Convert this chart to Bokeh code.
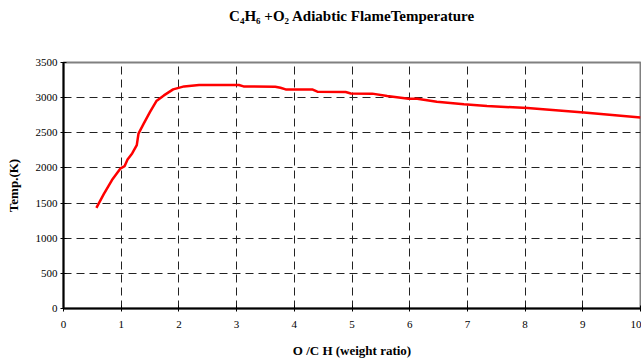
from bokeh.plotting import figure
from bokeh.models import FixedTicker, Range1d, Title
from bokeh.embed import file_html
from bokeh.resources import INLINE

# data
ratio = [0.57, 0.70, 0.84, 0.99, 1.06, 1.11, 1.19, 1.27, 1.30, 1.39, 1.50, 1.61,
         1.74, 1.90, 2.09, 2.35, 3.04, 3.12, 3.24, 3.67, 3.76, 3.85, 4.31, 4.40,
         4.89, 4.98, 5.35, 5.61, 5.98, 6.13, 6.47, 6.94, 7.34, 8.04, 9.02, 10.0]
temp = [1431, 1630, 1828, 1994, 2026, 2121, 2206, 2324, 2489, 2631, 2797, 2952,
        3032, 3117, 3160, 3180, 3180, 3160, 3158, 3155, 3140, 3117, 3117, 3085,
        3080, 3060, 3057, 3023, 2985, 2985, 2942, 2905, 2881, 2853, 2787, 2716]
x_ticks = [0, 1, 2, 3, 4, 5, 6, 7, 8, 9, 10]
y_ticks = [0, 500, 1000, 1500, 2000, 2500, 3000, 3500]
title_text = "C\u2084H\u2086 +O\u2082 Adiabtic FlameTemperature"
x_label = "O /C H (weight ratio)"
y_label = "Temp.(K)"

SERIF = "Liberation Serif"

p = figure(width=641, height=360, output_backend="svg", toolbar_location=None,
           x_range=Range1d(0, 10), y_range=Range1d(0, 3500),
           min_border_left=63, min_border_right=1, min_border_top=62, min_border_bottom=50)
p.background_fill_color = "white"
p.border_fill_color = "white"
p.outline_line_color = "#808080"
p.outline_line_width = 2

# an empty spacer title next to the frame pushes the real title upwards
p.add_layout(Title(text=" ", text_font_size="14px", standoff=16), "above")
p.add_layout(Title(text=title_text, align="center", text_font=SERIF,
                   text_font_size="15px", text_font_style="bold",
                   text_color="black"), "above")

p.line(ratio, temp, line_color="#ff0000", line_width=2.5)

for ax in (p.xaxis[0], p.yaxis[0]):
    ax.axis_line_color = "black"
    ax.axis_line_width = 2
    ax.major_tick_line_color = "black"
    ax.major_tick_in = 3
    ax.major_tick_out = 3
    ax.minor_tick_line_color = None
    ax.major_label_text_font = SERIF
    ax.major_label_text_font_size = "11px"
    ax.major_label_text_color = "black"
    ax.axis_label_text_font = SERIF
    ax.axis_label_text_font_style = "bold"
    ax.axis_label_text_font_size = "13px"
    ax.axis_label_text_color = "black"

p.xaxis.ticker = FixedTicker(ticks=x_ticks)
p.yaxis.ticker = FixedTicker(ticks=y_ticks)
p.xaxis.axis_label = x_label
p.yaxis.axis_label = y_label
p.xaxis.major_label_standoff = 9
p.xaxis.axis_label_standoff = 12
p.yaxis.major_label_standoff = 3
p.yaxis.axis_label_standoff = 12

p.xgrid.ticker = FixedTicker(ticks=x_ticks[1:-1])
p.ygrid.ticker = FixedTicker(ticks=y_ticks[1:-1])
for g in (p.xgrid[0], p.ygrid[0]):
    g.grid_line_color = "#222222"
    g.grid_line_width = 1
    g.grid_line_dash = "8 5"

open("out.html", "w").write(file_html(p, INLINE))
